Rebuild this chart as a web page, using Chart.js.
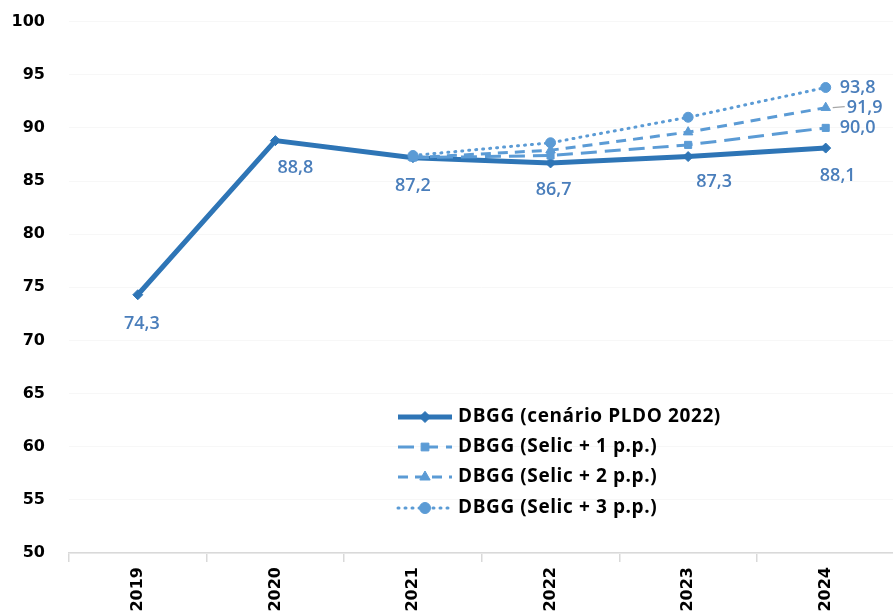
<!DOCTYPE html>
<html>
<head>
<meta charset="utf-8">
<script src="https://cdn.jsdelivr.net/npm/chart.js@4/dist/chart.umd.min.js"></script>
<style>
  html, body { margin: 0; padding: 0; background: #fff; overflow: hidden; }
  #wrap { position: absolute; left: 0; top: -12px; width: 901px; height: 652px; }
</style>
</head>
<body>
<div id="wrap"><canvas id="c"></canvas></div>
<script>
const categories = ['2019', '2020', '2021', '2022', '2023', '2024'];
const pldo   = [74.3, 88.8, 87.2, 86.7, 87.3, 88.1];
const selic1 = [null, null, 87.2, 87.4, 88.4, 90.0];
const selic2 = [null, null, 87.2, 87.9, 89.6, 91.9];
const selic3 = [null, null, 87.4, 88.6, 91.0, 93.8];
const seriesNames = ['DBGG (cenário PLDO 2022)', 'DBGG (Selic + 1 p.p.)', 'DBGG (Selic + 2 p.p.)', 'DBGG (Selic + 3 p.p.)'];
const yMin = 50, yMax = 100, yStep = 5;

const DARK = '#2e75b6';
const LIGHT = '#5b9bd5';
const LABEL = '#4a7ebb';
const SHIFT_Y = 12; // canvas is shifted up by this many px

const fmt = v => v.toFixed(1).replace('.', ',');

// label placement (style): which points get labels and offsets in px
const labelSpec = [
  { idx: [0,1,2,3,4,5], off: [[4,29],[20,27],[0,28],[3,27],[26,25],[12,28]], align: 'center' },
  { idx: [5], off: [[14,0]], align: 'left' },
  { idx: [5], off: [[14,0]], align: 'left', leader: true },
  { idx: [5], off: [[14,0]], align: 'left' }
];

const dataLabels = {
  id: 'dataLabels',
  afterDatasetsDraw(chart) {
    const ctx = chart.ctx;
    ctx.save();
    ctx.font = '600 18px "Open Sans", sans-serif';
    ctx.fillStyle = LABEL;
    ctx.textBaseline = 'middle';
    chart.data.datasets.forEach((ds, di) => {
      const meta = chart.getDatasetMeta(di);
      const spec = labelSpec[di];
      spec.idx.forEach((i, k) => {
        const p = meta.data[i];
        const v = ds.data[i];
        const [dx, dy] = spec.off[k];
        ctx.textAlign = spec.align;
        let tx = p.x + dx, ty = p.y + dy;
        if (spec.leader) {
          ctx.save();
          ctx.strokeStyle = '#a6a6a6';
          ctx.lineWidth = 1.2;
          ctx.beginPath();
          ctx.moveTo(p.x + 7, p.y);
          ctx.lineTo(p.x + 19, p.y - 1);
          ctx.stroke();
          ctx.restore();
          tx += 7;
        }
        ctx.fillText(fmt(v), tx, ty);
      });
    });
    ctx.restore();
  }
};

const customLegend = {
  id: 'customLegend',
  afterDraw(chart) {
    const ctx = chart.ctx;
    const x0 = 398, x1 = 452, xm = 425, tx = 458;
    const rows = [417, 447, 477, 508].map(r => r + SHIFT_Y);
    ctx.save();
    chart.data.datasets.forEach((ds, i) => {
      const y = rows[i];
      ctx.save();
      ctx.strokeStyle = ds.borderColor;
      ctx.lineWidth = ds.borderWidth;
      ctx.setLineDash(ds.borderDash || []);
      ctx.lineCap = ds.borderCapStyle || 'butt';
      ctx.beginPath();
      ctx.moveTo(x0, y);
      ctx.lineTo(x1, y);
      ctx.stroke();
      ctx.restore();
      ctx.fillStyle = ds.pointBackgroundColor;
      ctx.strokeStyle = ds.pointBorderColor;
      ctx.lineWidth = 1;
      ctx.setLineDash([]);
      Chart.helpers.drawPoint(ctx, { pointStyle: ds.pointStyle, radius: ds.pointRadius + 0.5, rotation: 0, borderWidth: 1 }, xm, y);
      ctx.fillStyle = '#000';
      ctx.font = 'bold 19px "Open Sans", sans-serif';
      ctx.letterSpacing = '0.6px';
      ctx.textAlign = 'left';
      ctx.textBaseline = 'middle';
      ctx.fillText(seriesNames[i], tx, y);
      ctx.letterSpacing = '0px';
    });
    ctx.restore();
  }
};

function ds(label, data, color, width, dash, style, radius, order, cap) {
  return {
    label, data,
    borderColor: color, backgroundColor: color,
    pointBackgroundColor: color, pointBorderColor: color,
    borderWidth: width, borderDash: dash, borderCapStyle: cap || 'butt',
    pointStyle: style, pointRadius: radius, pointHoverRadius: radius,
    pointBorderWidth: 1, tension: 0, spanGaps: false, order
  };
}

new Chart(document.getElementById('c'), {
  type: 'line',
  data: {
    labels: categories,
    datasets: [
      ds(seriesNames[0], pldo, DARK, 5, [], 'rectRot', 5, 4),
      ds(seriesNames[1], selic1, LIGHT, 3, [16, 8], 'rect', 5, 3),
      ds(seriesNames[2], selic2, LIGHT, 3, [10, 7], 'triangle', 5.5, 2),
      ds(seriesNames[3], selic3, LIGHT, 3, [1, 6], 'circle', 5, 1, 'round')
    ]
  },
  options: {
    responsive: true,
    maintainAspectRatio: false,
    animation: false,
    layout: { padding: { top: 8, right: 0, bottom: 0, left: 0 } },
    plugins: { legend: { display: false }, tooltip: { enabled: false } },
    scales: {
      x: {
        offset: true,
        afterFit(s) { s.height = 87; },
        grid: { offset: true, drawOnChartArea: false, drawTicks: true, tickLength: 9, color: '#d9d9d9', lineWidth: 1.5 },
        border: { display: true, color: '#d9d9d9', width: 1.5 },
        ticks: {
          minRotation: 90, maxRotation: 90, padding: 5, color: '#000',
          font: { family: '"DejaVu Sans", Verdana, sans-serif', weight: 'bold', size: 16 }
        }
      },
      y: {
        min: yMin, max: yMax,
        afterFit(s) { s.width = 69; },
        grid: { color: '#f7f7f7', drawTicks: false, lineWidth: 1 },
        border: { display: false },
        ticks: {
          stepSize: yStep, padding: 24, color: '#000',
          font: { family: '"DejaVu Sans", Verdana, sans-serif', weight: 'bold', size: 16 }
        }
      }
    }
  },
  plugins: [dataLabels, customLegend]
});
</script>
</body>
</html>
